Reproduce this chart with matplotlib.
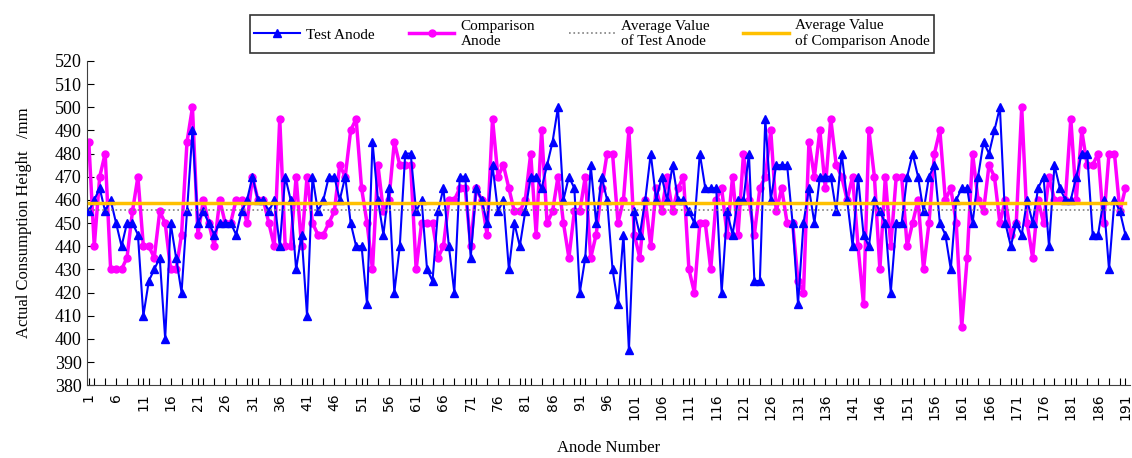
import numpy as np
import matplotlib
matplotlib.use('Agg')
import matplotlib.pyplot as plt
from matplotlib.ticker import MultipleLocator

# anode index 1..191
anode = np.arange(1, 192)

test_anode = [
    455, 460, 465, 455, 460, 450, 440, 450, 450, 445,
    410, 425, 430, 435, 400, 450, 435, 420, 455, 490,
    450, 455, 450, 445, 450, 450, 450, 445, 455, 460,
    470, 460, 460, 455, 460, 440, 470, 460, 430, 445,
    410, 470, 455, 460, 470, 470, 460, 470, 450, 440,
    440, 415, 485, 460, 445, 465, 420, 440, 480, 480,
    455, 460, 430, 425, 455, 465, 440, 420, 470, 470,
    435, 465, 460, 450, 475, 455, 460, 430, 450, 440,
    455, 470, 470, 465, 475, 485, 500, 460, 470, 465,
    420, 435, 475, 450, 470, 460, 430, 415, 445, 395,
    455, 445, 460, 480, 460, 470, 460, 475, 460, 460,
    455, 450, 480, 465, 465, 465, 420, 455, 445, 460,
    460, 480, 425, 425, 495, 460, 475, 475, 475, 450,
    415, 450, 465, 450, 470, 470, 470, 455, 480, 460,
    440, 470, 445, 440, 460, 455, 450, 420, 450, 450,
    470, 480, 470, 455, 470, 475, 450, 445, 430, 460,
    465, 465, 450, 470, 485, 480, 490, 500, 450, 440,
    450, 445, 460, 450, 465, 470, 440, 475, 465, 460,
    460, 470, 480, 480, 445, 445, 460, 430, 460, 455,
    445,
]

comparison_anode = [
    485, 440, 470, 480, 430, 430, 430, 435, 455, 470,
    440, 440, 435, 455, 450, 430, 430, 445, 485, 500,
    445, 460, 450, 440, 460, 450, 450, 460, 460, 450,
    470, 460, 460, 450, 440, 495, 440, 440, 470, 440,
    470, 450, 445, 445, 450, 455, 475, 470, 490, 495,
    465, 450, 430, 475, 455, 460, 485, 475, 475, 475,
    430, 450, 450, 450, 435, 440, 460, 460, 465, 465,
    440, 465, 460, 445, 495, 470, 475, 465, 455, 455,
    460, 480, 445, 490, 450, 455, 470, 450, 435, 455,
    455, 470, 435, 445, 465, 480, 480, 450, 460, 490,
    445, 435, 460, 440, 465, 455, 470, 455, 465, 470,
    430, 420, 450, 450, 430, 460, 465, 445, 470, 445,
    480, 460, 445, 465, 470, 490, 455, 465, 450, 450,
    425, 420, 485, 470, 490, 465, 495, 475, 470, 460,
    470, 440, 415, 490, 470, 430, 470, 440, 470, 470,
    440, 450, 460, 430, 450, 480, 490, 460, 465, 450,
    405, 435, 480, 460, 455, 475, 470, 450, 460, 445,
    450, 500, 450, 435, 460, 450, 470, 460, 460, 460,
    495, 460, 490, 475, 475, 480, 450, 480, 480, 455,
    465,
]

avg_test = 455.5
avg_comparison = 458.5

xtick_labels = list(range(1, 192, 5))

plt.rcParams['font.family'] = ['Liberation Serif', 'DejaVu Serif']

fig = plt.figure(figsize=(11.32, 4.58), dpi=100)
ax = fig.add_axes([0.077, 0.159, 0.921, 0.708])

ax.plot(anode, test_anode, color='#0000FF', lw=1.5, marker='^', ms=5.5,
        label='Test Anode', zorder=3)
ax.plot(anode, comparison_anode, color='#FF00FF', lw=2.5, marker='o', ms=5,
        label='Comparison\nAnode', zorder=2)
ax.plot(anode, [avg_test] * len(anode), color='#808080', lw=1.2, ls=':',
        label='Average Value\nof Test Anode', zorder=4)
ax.plot(anode, [avg_comparison] * len(anode), color='#FFC000', lw=2.5,
        label='Average Value\nof Comparison Anode', zorder=4)

ax.set_xlim(0.7, 191.8)
ax.set_ylim(380, 520)
ax.yaxis.set_major_locator(MultipleLocator(10))
ax.set_xticks(xtick_labels)
ax.set_xticklabels([str(v) for v in xtick_labels], rotation=90,
                   fontfamily='DejaVu Sans', fontsize=10)
ax.xaxis.set_minor_locator(MultipleLocator(2))
ax.tick_params(axis='x', which='both', direction='in', length=5, width=0.8,
               pad=6)
ax.tick_params(axis='y', direction='in', length=5, labelsize=13, pad=4)

for side in ['top', 'right']:
    ax.spines[side].set_visible(False)
ax.spines['left'].set_color('#404040')
ax.spines['bottom'].set_color('#404040')

ax.set_xlabel('Anode Number', fontsize=12, labelpad=14)
ax.set_ylabel('Actual Consumption Height   /mm', fontsize=12, labelpad=16)

leg = fig.legend(loc='upper center', bbox_to_anchor=(0.523, 0.985), ncol=4,
                 fontsize=11, frameon=True, fancybox=False, edgecolor='black',
                 handlelength=3.0, columnspacing=2.2, borderpad=0.3,
                 labelspacing=0.1, handletextpad=0.4)
leg.get_frame().set_linewidth(1.2)

plt.savefig('out.png')
